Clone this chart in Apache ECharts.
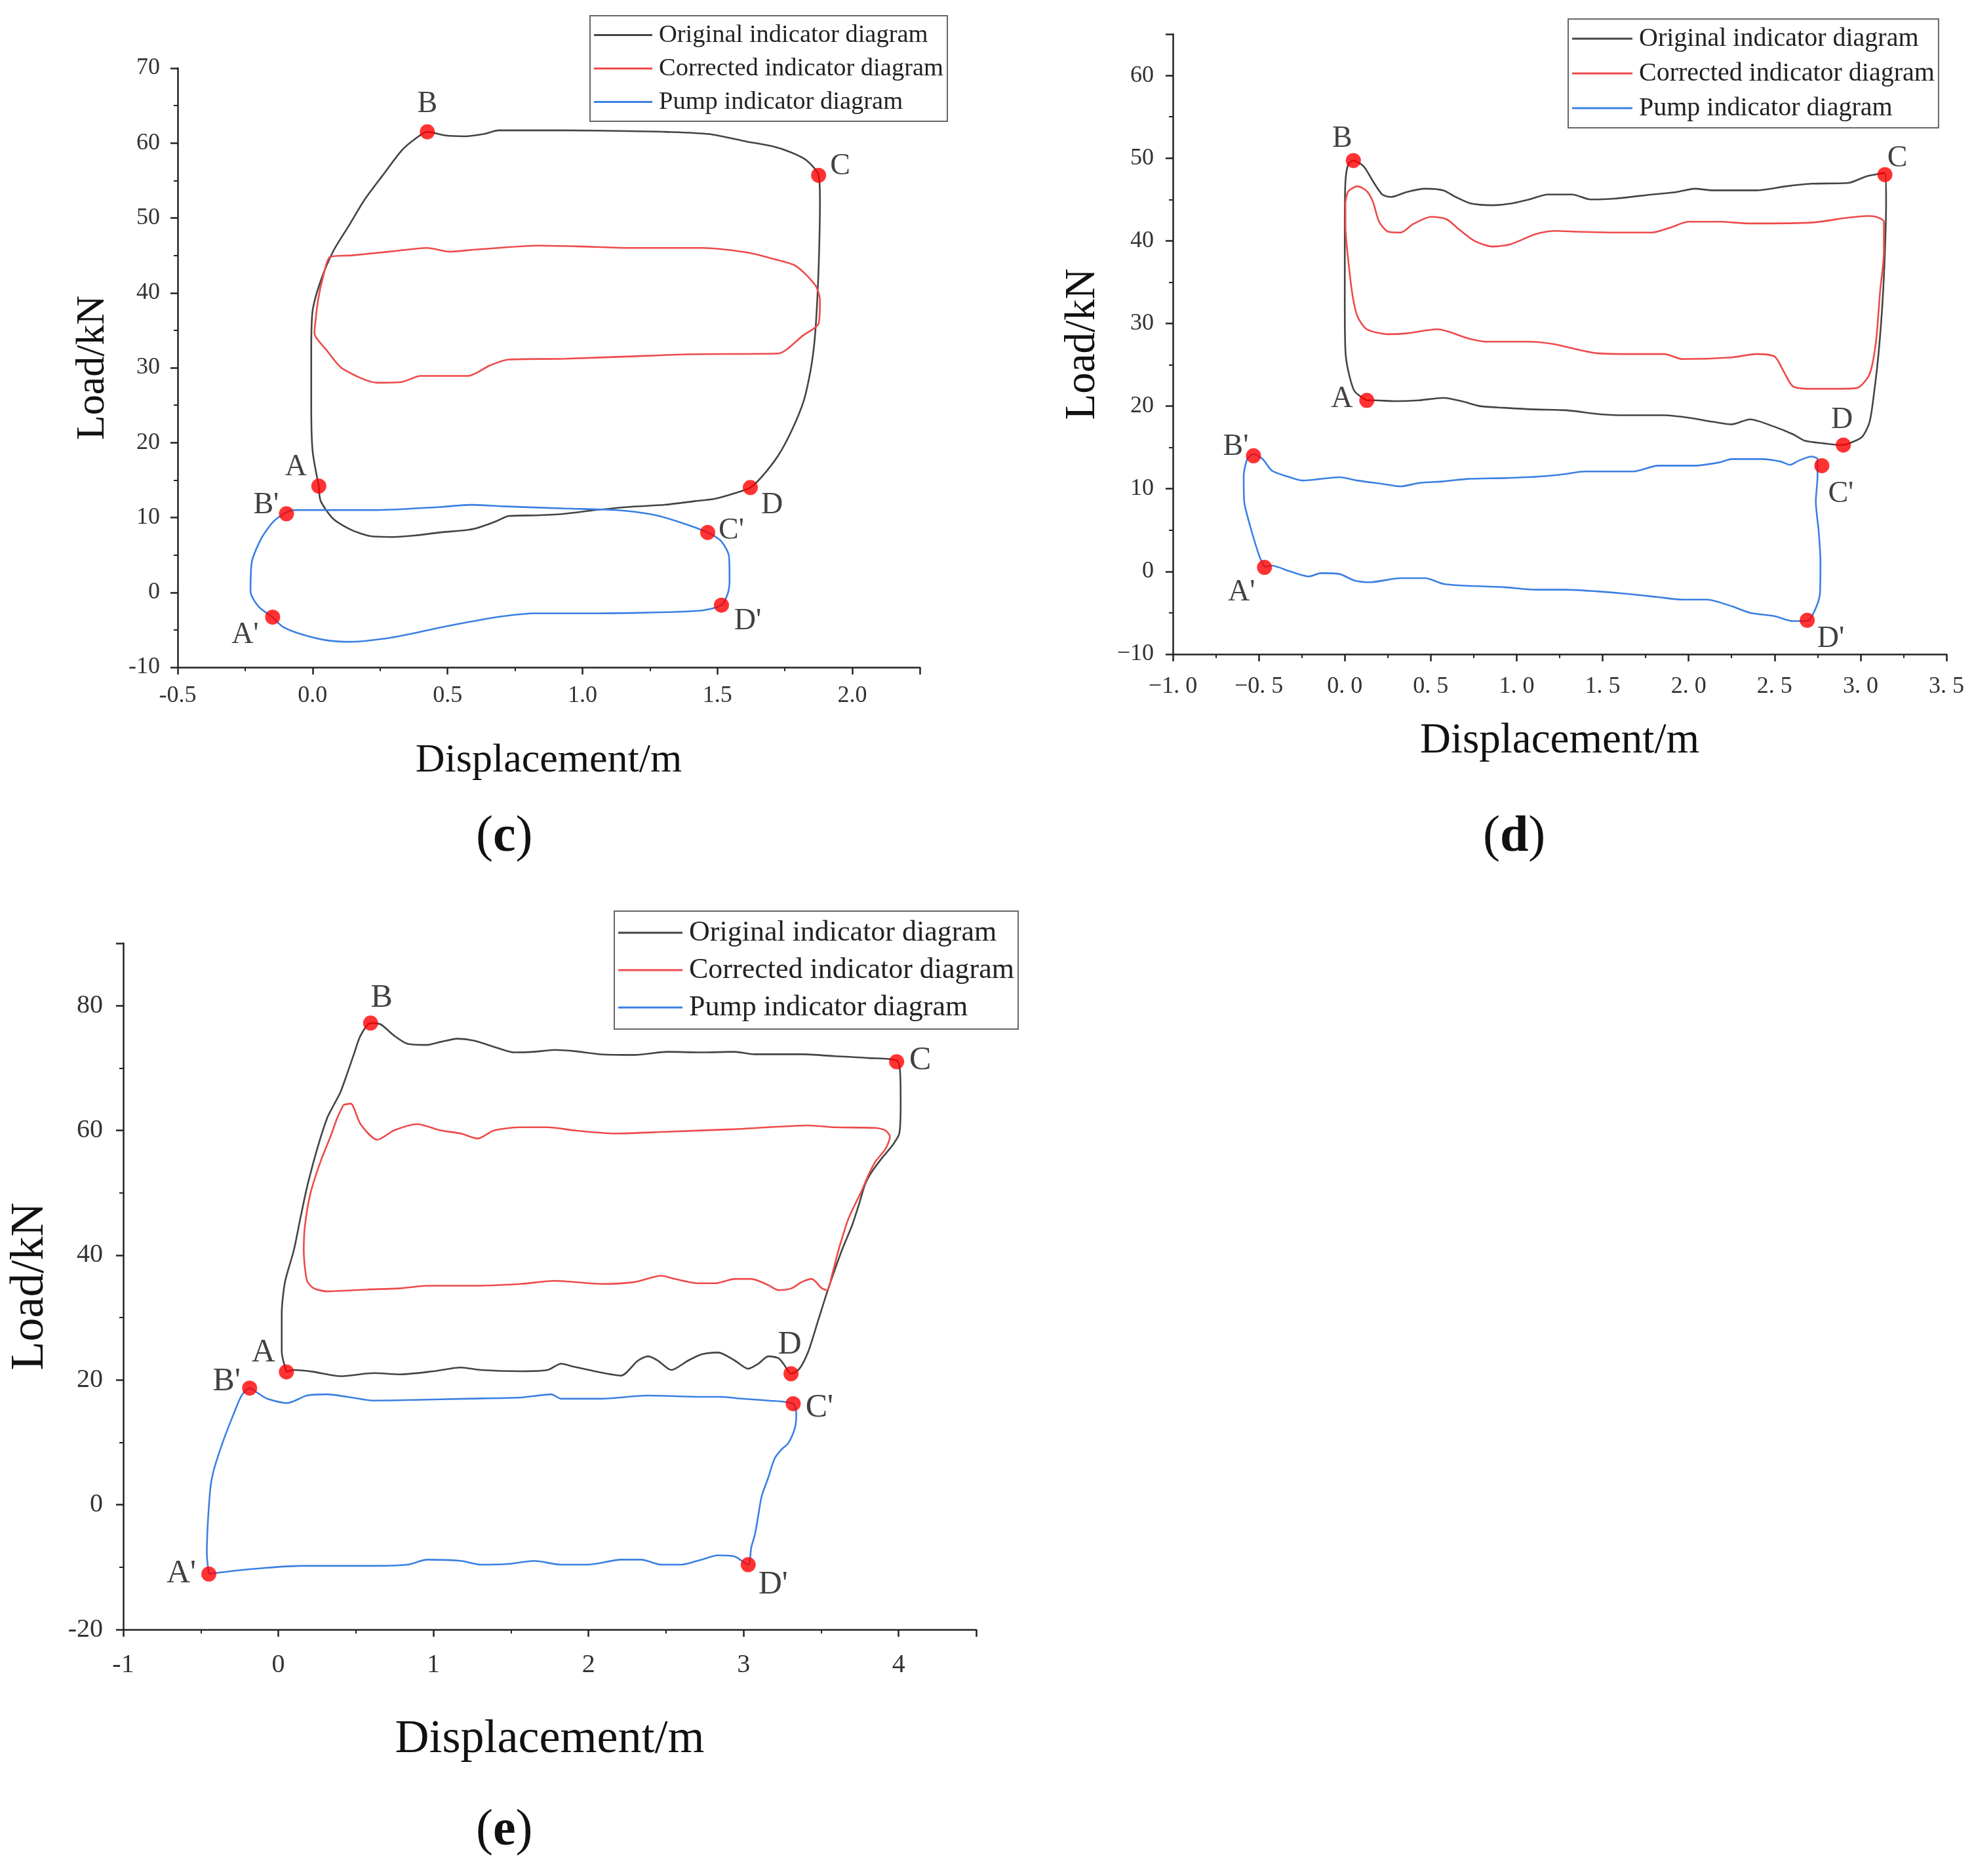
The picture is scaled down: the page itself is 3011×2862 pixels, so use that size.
<!DOCTYPE html>
<html>
<head>
<meta charset="utf-8">
<script src="https://cdn.jsdelivr.net/npm/echarts@6/dist/echarts.min.js"></script>
<style>html,body{margin:0;padding:0;background:#fff}#chart{width:3011px;height:2862px}</style>
</head>
<body>
<div id="chart"></div>
<script>
// ---------- DATA ----------
var seriesNames = ['Original indicator diagram', 'Corrected indicator diagram', 'Pump indicator diagram'];
var markNames = ['A', 'B', 'C', 'D', "A'", "B'", "C'", "D'"];

// Panel (c)
var cOriginal = [[0.023,14.2],[0,18.9],[-0.005,25],[-0.005,32.3],[0,37.6],[0.03,41.6],[0.077,45.6],[0.135,49],[0.19,52.3],[0.26,55.7],[0.33,59],[0.378,60.5],[0.425,61.5],[0.494,61],[0.564,60.9],[0.633,61.2],[0.69,61.7],[0.935,61.7],[1.167,61.6],[1.306,61.5],[1.469,61.2],[1.608,60.2],[1.70,59.6],[1.77,58.8],[1.83,57.7],[1.875,55.7],[1.88,52.3],[1.877,45.6],[1.87,39],[1.86,33.6],[1.845,29.6],[1.82,25.6],[1.775,21.6],[1.724,18.2],[1.666,15.5],[1.622,14],[1.56,13.2],[1.49,12.5],[1.42,12.2],[1.306,11.7],[1.167,11.4],[1.05,11.0],[0.935,10.5],[0.842,10.3],[0.726,10.2],[0.68,9.5],[0.61,8.6],[0.564,8.3],[0.471,8.0],[0.378,7.6],[0.285,7.4],[0.216,7.5],[0.146,8.3],[0.077,9.8],[0.03,12.2],[0.023,14.2]];
var cCorrected = [[0.007,35],[0.02,39],[0.04,42.3],[0.065,44.8],[0.146,45],[0.285,45.5],[0.425,46],[0.506,45.5],[0.61,45.8],[0.842,46.3],[0.98,46.2],[1.167,46],[1.445,46],[1.608,45.4],[1.70,44.6],[1.79,43.6],[1.863,41],[1.88,39],[1.875,35.9],[1.817,34.3],[1.724,31.9],[1.4,31.8],[1.167,31.5],[0.935,31.2],[0.726,31.1],[0.657,30.3],[0.575,28.9],[0.471,28.9],[0.40,28.9],[0.33,28.1],[0.24,28.0],[0.11,29.9],[0.053,32.3],[0.007,34.6],[0.007,35]];
var cPump = [[-0.148,-3.3],[-0.2,-1.9],[-0.23,0.1],[-0.225,4.1],[-0.19,7.2],[-0.144,9.5],[-0.097,10.7],[-0.063,11.0],[0.239,11.0],[0.471,11.4],[0.587,11.7],[0.703,11.5],[0.935,11.2],[1.12,11.0],[1.26,10.4],[1.35,9.5],[1.464,8.0],[1.515,6.8],[1.543,4.8],[1.545,1.5],[1.538,-0.2],[1.515,-1.7],[1.445,-2.4],[1.237,-2.7],[1.05,-2.8],[0.82,-2.8],[0.703,-3.2],[0.587,-3.9],[0.471,-4.7],[0.355,-5.6],[0.262,-6.2],[0.146,-6.6],[0.053,-6.4],[-0.04,-5.6],[-0.11,-4.6],[-0.148,-3.3]];
var cMarkX = [0.023, 0.425, 1.875, 1.622, -0.148, -0.097, 1.464, 1.515];
var cMarkY = [14.2, 61.5, 55.7, 14.0, -3.3, 10.5, 8.0, -1.7];

// Panel (d)
var dOriginal = [[0.128,20.7],[0.057,21.8],[0.021,24.2],[0.004,26.6],[0,32.6],[0,41.7],[0.004,47.2],[0.021,49.3],[0.05,49.7],[0.11,49.0],[0.164,47.2],[0.218,45.6],[0.27,45.3],[0.36,45.9],[0.467,46.3],[0.574,46.1],[0.645,45.3],[0.735,44.5],[0.86,44.3],[0.966,44.5],[1.073,45.0],[1.18,45.6],[1.323,45.6],[1.43,45.0],[1.57,45.1],[1.787,45.6],[1.93,45.9],[2.036,46.3],[2.14,46.1],[2.39,46.1],[2.57,46.6],[2.714,46.9],[2.93,47.0],[3.035,47.8],[3.142,48.2],[3.149,44.7],[3.142,38.7],[3.128,32.6],[3.106,26.6],[3.08,21.8],[3.053,18.1],[3.01,16.3],[2.946,15.6],[2.892,15.3],[2.785,15.5],[2.678,15.8],[2.607,16.6],[2.5,17.5],[2.357,18.4],[2.25,17.8],[2.143,18.1],[2.0,18.6],[1.858,18.9],[1.644,18.9],[1.5,19.0],[1.287,19.5],[1.109,19.6],[0.93,19.8],[0.788,20.0],[0.68,20.6],[0.574,21.0],[0.43,20.7],[0.289,20.6],[0.18,20.7],[0.128,20.7]];
var dCorrected = [[0.004,44.7],[0.021,46.0],[0.075,46.6],[0.128,46],[0.164,44.7],[0.2,42.3],[0.253,41.1],[0.325,41.0],[0.396,42.0],[0.503,42.9],[0.592,42.6],[0.663,41.4],[0.753,40.0],[0.86,39.3],[0.966,39.6],[1.109,40.8],[1.216,41.2],[1.359,41.1],[1.573,41.0],[1.787,41.0],[1.894,41.6],[2.0,42.3],[2.18,42.3],[2.357,42.1],[2.714,42.2],[2.928,42.8],[3.035,43.0],[3.09,42.9],[3.136,42.3],[3.136,38.7],[3.114,33.9],[3.09,27.8],[3.053,23.9],[2.98,22.2],[2.857,22.1],[2.714,22.1],[2.607,22.4],[2.553,24.2],[2.5,26.0],[2.393,26.3],[2.25,25.9],[1.965,25.7],[1.858,26.3],[1.68,26.3],[1.466,26.4],[1.216,27.5],[1.073,27.8],[0.824,27.8],[0.717,28.2],[0.539,29.3],[0.36,28.8],[0.253,28.7],[0.128,29.3],[0.075,30.8],[0.046,33.3],[0.021,37.5],[0.004,41.7],[0.004,44.7]];
var dPump = [[-0.467,0.54],[-0.496,1.8],[-0.549,5.4],[-0.585,8.5],[-0.588,11.5],[-0.567,13.6],[-0.531,14.2],[-0.478,13.6],[-0.424,12.2],[-0.335,11.5],[-0.246,11.0],[-0.139,11.2],[-0.032,11.4],[0.075,11.0],[0.218,10.6],[0.325,10.3],[0.432,10.7],[0.574,10.9],[0.717,11.2],[0.93,11.3],[1.145,11.5],[1.287,11.8],[1.394,12.1],[1.68,12.1],[1.823,12.8],[2.036,12.8],[2.18,13.2],[2.25,13.6],[2.43,13.6],[2.535,13.3],[2.59,12.9],[2.64,13.4],[2.714,13.9],[2.75,13.6],[2.75,11.5],[2.74,8.5],[2.757,4.8],[2.767,1.2],[2.764,-2.7],[2.732,-4.8],[2.69,-6.0],[2.607,-6.0],[2.5,-5.4],[2.357,-5.0],[2.25,-4.2],[2.107,-3.4],[1.965,-3.4],[1.823,-3.1],[1.644,-2.7],[1.466,-2.4],[1.287,-2.2],[1.109,-2.2],[0.93,-1.9],[0.68,-1.7],[0.574,-1.5],[0.467,-0.8],[0.325,-0.8],[0.146,-1.3],[0.057,-1.1],[-0.032,-0.3],[-0.139,-0.2],[-0.21,-0.6],[-0.317,0],[-0.424,0.7],[-0.467,0.54]];
var dMarkX = [0.128, 0.05, 3.142, 2.9, -0.467, -0.531, 2.775, 2.69];
var dMarkY = [20.7, 49.7, 48.0, 15.3, 0.5, 14.0, 12.8, -5.9];

// Panel (e)
var eOriginal = [[0.052,21.3],[0.022,24.6],[0.022,30.7],[0.043,35.7],[0.1,40.8],[0.142,45.9],[0.185,50.9],[0.25,57],[0.315,62.0],[0.358,64.1],[0.4,66.1],[0.444,69.1],[0.487,72.2],[0.53,75.2],[0.595,77.2],[0.66,77.0],[0.746,75.2],[0.832,73.9],[0.96,73.7],[1.05,74.2],[1.155,74.7],[1.26,74.4],[1.39,73.4],[1.52,72.5],[1.65,72.6],[1.78,72.9],[1.91,72.7],[2.08,72.2],[2.3,72.1],[2.51,72.6],[2.73,72.5],[2.94,72.6],[3.07,72.2],[3.375,72.2],[3.59,71.9],[3.806,71.6],[3.987,71.2],[4.01,69.1],[4.013,64.1],[4.004,59.5],[3.957,57.5],[3.89,55.5],[3.828,53.4],[3.784,51.4],[3.741,47.9],[3.70,44.8],[3.634,40.8],[3.547,34.7],[3.483,29.7],[3.418,24.6],[3.36,21.8],[3.306,21.0],[3.26,22.5],[3.224,23.5],[3.16,23.8],[3.095,22.6],[3.03,21.8],[2.944,23.1],[2.836,24.4],[2.728,24.1],[2.642,23.1],[2.534,21.6],[2.448,23.1],[2.384,23.8],[2.319,23.1],[2.21,20.7],[2.04,21.4],[1.91,22.1],[1.823,22.6],[1.737,21.6],[1.565,21.4],[1.306,21.6],[1.177,22.0],[1.0,21.4],[0.789,20.9],[0.616,21.1],[0.4,20.6],[0.228,21.3],[0.1,21.6],[0.052,21.3]];
var eCorrected = [[0.42,64.1],[0.466,64.3],[0.53,61.0],[0.638,58.5],[0.746,60.0],[0.897,61.0],[1.047,60.0],[1.177,59.5],[1.284,58.7],[1.392,60.0],[1.565,60.5],[1.737,60.5],[1.91,60.0],[2.168,59.5],[2.513,59.8],[2.944,60.2],[3.418,60.8],[3.59,60.5],[3.85,60.4],[3.914,60.0],[3.944,59.0],[3.914,57.0],[3.85,55.0],[3.806,52.9],[3.763,50.4],[3.677,45.9],[3.612,40.8],[3.569,36.7],[3.539,34.4],[3.504,34.7],[3.44,36.2],[3.375,35.7],[3.31,34.7],[3.224,34.4],[3.16,35.2],[3.05,36.2],[2.944,36.2],[2.815,35.5],[2.707,35.5],[2.556,36.2],[2.47,36.7],[2.297,35.7],[2.082,35.4],[1.78,35.9],[1.565,35.4],[1.22,35.1],[0.96,35.1],[0.789,34.7],[0.573,34.5],[0.315,34.2],[0.228,34.7],[0.185,35.9],[0.164,40.8],[0.172,44.8],[0.207,49.9],[0.272,55.0],[0.336,59.0],[0.38,62.0],[0.42,64.1]];
var ePump = [[-0.448,-11.1],[-0.461,-7.8],[-0.44,2.3],[-0.418,5.4],[-0.353,10.4],[-0.289,14.5],[-0.237,17.5],[-0.185,18.7],[-0.138,18.0],[-0.073,17.0],[0.056,16.3],[0.185,17.5],[0.315,17.7],[0.444,17.3],[0.616,16.7],[0.875,16.8],[1.22,17.0],[1.565,17.2],[1.76,17.7],[1.823,17.0],[2.082,17.0],[2.384,17.5],[2.728,17.3],[2.858,17.3],[2.987,17.0],[3.16,16.7],[3.32,16.2],[3.34,14.5],[3.332,12.4],[3.289,9.9],[3.246,8.9],[3.2,7.4],[3.16,4.4],[3.116,1.3],[3.095,-1.7],[3.073,-4.8],[3.05,-6.8],[3.03,-9.6],[2.944,-8.3],[2.836,-8.1],[2.728,-8.8],[2.6,-9.6],[2.47,-9.6],[2.34,-8.8],[2.21,-8.8],[1.996,-9.6],[1.823,-9.6],[1.65,-9.0],[1.478,-9.5],[1.306,-9.6],[1.177,-9.0],[0.96,-8.8],[0.832,-9.6],[0.573,-9.8],[0.142,-9.8],[-0.073,-10.1],[-0.289,-10.6],[-0.448,-11.1]];
var eMarkX = [0.052, 0.595, 3.987, 3.306, -0.448, -0.185, 3.32, 3.03];
var eMarkY = [21.3, 77.2, 71.0, 21.0, -11.1, 18.7, 16.2, -9.6];

// ---------- STYLE / LAYOUT ----------
var SERIF = '"Liberation Serif", "DejaVu Serif", serif';
var lineColors = ['#444444', '#ee4a4a', '#3b80e2'];
var axisColor = '#222';

var panels = [
  { grid: {left: 271, top: 104, width: 1132, height: 914},
    x: {min: -0.5, max: 2.25, interval: 0.5}, y: {min: -10, max: 70, interval: 10},
    tickFont: 36, xMargin: 26, yMargin: 27, nameFont: 62, xNameGap: 112, yNameGap: 98,
    fmtX: function (v) { return v.toFixed(1); }, fmtY: function (v) { return String(v); },
    series: [cOriginal, cCorrected, cPump], mx: cMarkX, my: cMarkY, markFont: 46,
    offs: [[-35,-29],[0,-42],[33,-13],[33,27],[-42,27],[-31,-13],[36,-2],[40,25]],
    legend: {left: 900, top: 24, font: 38.5, gap: 12, w: 89, pad: [10, 6, 10, 6]},
    caption: {x: 776, y: 1283, letter: 'c'} },
  { grid: {left: 1789, top: 52, width: 1180, height: 946},
    x: {min: -1, max: 3.5, interval: 0.5}, y: {min: -10, max: 65, interval: 10},
    tickFont: 36, xMargin: 32, yMargin: 29, nameFont: 65, xNameGap: 100, yNameGap: 105,
    fmtX: function (v) { return v.toFixed(1).replace('.', '. ').replace('-', '\u2212'); },
    fmtY: function (v) { return String(v).replace('-', '\u2212'); },
    series: [dOriginal, dCorrected, dPump], mx: dMarkX, my: dMarkY, markFont: 46,
    offs: [[-38,-2],[-17,-33],[19,-25],[-2,-38],[-35,38],[-27,-13],[29,44],[36,29]],
    legend: {left: 2392, top: 29, font: 40, gap: 13, w: 92, pad: [10, 6, 10, 6]},
    caption: {x: 2312, y: 1283, letter: 'd'} },
  { grid: {left: 188, top: 1439, width: 1301, height: 1047},
    x: {min: -1, max: 4.5, interval: 1}, y: {min: -20, max: 90, interval: 20},
    tickFont: 40, xMargin: 34, yMargin: 31, nameFont: 72, xNameGap: 132, yNameGap: 106,
    fmtX: function (v) { return String(v); }, fmtY: function (v) { return String(v); },
    series: [eOriginal, eCorrected, ePump], mx: eMarkX, my: eMarkY, markFont: 50,
    offs: [[-35,-29],[17,-38],[36,-2],[-2,-44],[-42,0],[-35,-10],[40,6],[38,31]],
    legend: {left: 937, top: 1390, font: 44, gap: 13, w: 98, pad: [11, 6, 11, 6]},
    caption: {x: 776, y: 2799, letter: 'e'} }
];

var option = {
  backgroundColor: '#ffffff',
  animation: false,
  grid: [], xAxis: [], yAxis: [], series: [], legend: [], graphic: []
};

panels.forEach(function (p, gi) {
  option.grid.push(Object.assign({containLabel: false}, p.grid));
  var common = {
    type: 'value', gridIndex: gi,
    axisLine: {show: true, onZero: false, lineStyle: {color: axisColor, width: 2.5}},
    axisTick: {show: true, inside: false, length: 11, lineStyle: {color: axisColor, width: 2.5}},
    minorTick: {show: true, splitNumber: 2, length: 6, lineStyle: {color: axisColor, width: 2}},
    splitLine: {show: false},
    nameLocation: 'middle',
    nameTextStyle: {fontFamily: SERIF, fontSize: p.nameFont, color: '#111'}
  };
  option.xAxis.push(Object.assign({}, common, {
    min: p.x.min, max: p.x.max, interval: p.x.interval,
    name: 'Displacement/m', nameGap: p.xNameGap,
    axisLabel: {fontFamily: SERIF, fontSize: p.tickFont, color: '#333', margin: p.xMargin,
      showMaxLabel: (p.x.max - p.x.min) % p.x.interval === 0, formatter: p.fmtX}
  }));
  option.yAxis.push(Object.assign({}, common, {
    min: p.y.min, max: p.y.max, interval: p.y.interval,
    name: 'Load/kN', nameGap: p.yNameGap, nameRotate: 90,
    axisLabel: {fontFamily: SERIF, fontSize: p.tickFont, color: '#333', margin: p.yMargin,
      showMaxLabel: (p.y.max - p.y.min) % p.y.interval === 0, formatter: p.fmtY}
  }));
  p.series.forEach(function (d, si) {
    option.series.push({
      type: 'line', name: seriesNames[si], xAxisIndex: gi, yAxisIndex: gi,
      data: d, showSymbol: false, symbol: 'none', smooth: 0.25,
      lineStyle: {color: lineColors[si], width: 2.6}, itemStyle: {color: lineColors[si]},
      z: 2
    });
  });
  option.series.push({
    type: 'scatter', xAxisIndex: gi, yAxisIndex: gi, symbolSize: 23, z: 5,
    itemStyle: {color: '#ff0000'},
    data: p.mx.map(function (x, k) {
      return {value: [x, p.my[k]], name: markNames[k],
        label: {show: true, position: 'inside', offset: p.offs[k], formatter: markNames[k],
          fontFamily: SERIF, fontSize: p.markFont, color: '#111'}};
    })
  });
  var L = p.legend;
  option.legend.push({
    left: L.left, top: L.top, orient: 'vertical', padding: L.pad, itemGap: L.gap,
    itemWidth: L.w, itemHeight: 3, icon: 'rect',
    borderColor: '#666', borderWidth: 2, backgroundColor: '#fff',
    textStyle: {fontFamily: SERIF, fontSize: L.font, lineHeight: L.font, color: '#222', padding: [0, 0, 0, 5]},
    data: seriesNames.slice()
  });
  option.graphic.push({
    type: 'text', left: p.caption.x - 50, top: p.caption.y - 44,
    style: {
      text: '{n|(}{b|' + p.caption.letter + '}{n|)}',
      rich: {
        n: {fontFamily: SERIF, fontSize: 78, fill: '#111'},
        b: {fontFamily: SERIF, fontSize: 78, fontWeight: 'bold', fill: '#111'}
      }
    }
  });
});

var chart = echarts.init(document.getElementById('chart'), null, {renderer: 'canvas'});
chart.setOption(option);
</script>
</body>
</html>
